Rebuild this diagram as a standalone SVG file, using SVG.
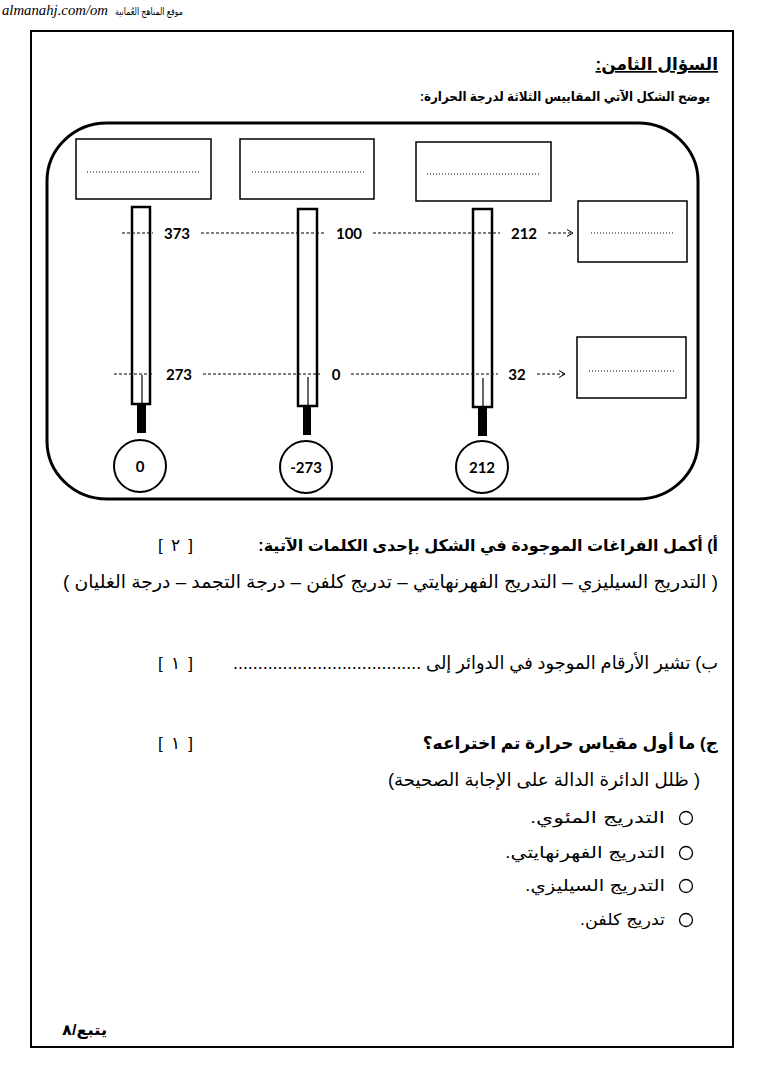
<svg xmlns="http://www.w3.org/2000/svg" width="764" height="1080" viewBox="0 0 764 1080">
<style>
.ar{font-family:"Liberation Sans","DejaVu Sans",sans-serif;fill:#000}
.b{font-weight:bold}
.num{font-family:Lato,"Open Sans","DejaVu Sans",sans-serif;font-weight:bold;font-size:15px;fill:#000}
.box{fill:#fff;stroke:#000;stroke-width:1.5}
.dots{stroke:#000;stroke-width:1;stroke-dasharray:1 2;fill:none}
.dash{stroke:#000;stroke-width:1;stroke-dasharray:3 2;fill:none}
.tube{fill:none;stroke:#000;stroke-width:2.5}
.inner{stroke:#000;stroke-width:1.2}
.stem{fill:#000}
.bulb{fill:#fff;stroke:#000;stroke-width:2}
.opt{fill:#fff;stroke:#000;stroke-width:1.3}
.hdr{font-family:"Liberation Serif",serif;font-style:italic;font-size:15px;fill:#000}
</style>
<defs>
<marker id="arr" markerWidth="8" markerHeight="8" refX="6" refY="4" orient="auto" markerUnits="userSpaceOnUse">
<path d="M0,0.5 L6,4 L0,7.5" fill="none" stroke="#000" stroke-width="1"/>
</marker>
</defs>
<rect width="764" height="1080" fill="#fff"/>
<text x="2" y="15" class="hdr" textLength="106" lengthAdjust="spacingAndGlyphs">almanahj.com/om</text>
<text x="183" y="15" class="ar" font-size="10" direction="rtl" textLength="68" lengthAdjust="spacingAndGlyphs">موقع المناهج العُمانية</text>
<rect x="31" y="31" width="702" height="1016" fill="none" stroke="#000" stroke-width="2"/>

<text x="718" y="70" class="ar b" font-size="17" direction="rtl" text-decoration="underline">السؤال الثامن:</text>
<text x="710" y="101" class="ar b" font-size="13" direction="rtl" textLength="290" lengthAdjust="spacingAndGlyphs">يوضح الشكل الآتي المقاييس الثلاثة لدرجة الحرارة:</text>

<g id="frame"><rect x="47" y="123" width="651" height="376" rx="60" ry="58" fill="none" stroke="#000" stroke-width="3"/></g>

<g id="box1"><rect class="box" x="76" y="139" width="135" height="60"/><line class="dots" x1="87" y1="172" x2="199" y2="172"/></g>
<g id="box2"><rect class="box" x="240" y="139" width="134" height="60"/><line class="dots" x1="252" y1="172" x2="364" y2="172"/></g>
<g id="box3"><rect class="box" x="416" y="142" width="135" height="59"/><line class="dots" x1="427" y1="174" x2="539" y2="174"/></g>
<g id="box4"><rect class="box" x="578" y="201" width="109" height="61"/><line class="dots" x1="591" y1="233" x2="675" y2="233"/></g>
<g id="box5"><rect class="box" x="577" y="337" width="109" height="61"/><line class="dots" x1="589" y1="371" x2="674" y2="371"/></g>

<g id="connectors">
<line class="dash" x1="122" y1="233" x2="153" y2="233"/>
<line class="dash" x1="201" y1="233" x2="324" y2="233"/>
<line class="dash" x1="373" y1="233" x2="500" y2="233"/>
<line class="dash" x1="548" y1="233" x2="573" y2="233" marker-end="url(#arr)"/>
<line class="dash" x1="114" y1="374" x2="153" y2="374"/>
<line class="dash" x1="203" y1="374" x2="320" y2="374"/>
<line class="dash" x1="351" y1="374" x2="498" y2="374"/>
<line class="dash" x1="537" y1="374" x2="565" y2="374" marker-end="url(#arr)"/>
</g>

<g id="thermo1">
<rect class="tube" x="132" y="207" width="18" height="197"/>
<line class="inner" x1="142" y1="375" x2="142" y2="404"/>
<rect class="stem" x="137" y="404" width="9" height="29"/>
<circle class="bulb" cx="140" cy="466" r="26"/>
<text class="num" x="140" y="472" text-anchor="middle">0</text>
</g>
<g id="thermo2">
<rect class="tube" x="298" y="209" width="19" height="197"/>
<line class="inner" x1="308" y1="377" x2="308" y2="406"/>
<rect class="stem" x="303" y="406" width="8" height="29"/>
<circle class="bulb" cx="306" cy="467" r="26"/>
<text class="num" x="306" y="473" text-anchor="middle">-273</text>
</g>
<g id="thermo3">
<rect class="tube" x="473" y="209" width="19" height="198"/>
<line class="inner" x1="483" y1="378" x2="483" y2="407"/>
<rect class="stem" x="478" y="407" width="9" height="29"/>
<circle class="bulb" cx="482" cy="467" r="26"/>
<text class="num" x="482" y="473" text-anchor="middle">212</text>
</g>

<g id="labels">
<text class="num" x="177" y="239" text-anchor="middle">373</text>
<text class="num" x="349" y="239" text-anchor="middle">100</text>
<text class="num" x="524" y="239" text-anchor="middle">212</text>
<text class="num" x="179" y="380" text-anchor="middle">273</text>
<text class="num" x="336" y="380" text-anchor="middle">0</text>
<text class="num" x="517" y="380" text-anchor="middle">32</text>
</g>

<text x="718" y="551" class="ar b" font-size="16" direction="rtl">أ) أكمل الفراغات الموجودة في الشكل بإحدى الكلمات الآتية:</text>
<text x="158" y="551" class="ar" font-size="17" textLength="35" lengthAdjust="spacing">[ ٢ ]</text>
<text x="718" y="588" class="ar" font-size="18" direction="rtl" textLength="655" lengthAdjust="spacingAndGlyphs">( التدريج السيليزي – التدريج الفهرنهايتي – تدريج كلفن – درجة التجمد – درجة الغليان )</text>

<text x="718" y="669" class="ar" font-size="18" direction="rtl" textLength="485" lengthAdjust="spacingAndGlyphs">ب) تشير الأرقام الموجود في الدوائر إلى ......................................</text>
<text x="158" y="669" class="ar" font-size="17" textLength="35" lengthAdjust="spacing">[ ١ ]</text>

<text x="718" y="749" class="ar b" font-size="17" direction="rtl">ج) ما أول مقياس حرارة تم اختراعه؟</text>
<text x="158" y="749" class="ar" font-size="17" textLength="35" lengthAdjust="spacing">[ ١ ]</text>

<text x="700" y="786" class="ar" font-size="18" direction="rtl" textLength="312" lengthAdjust="spacingAndGlyphs">( ظلل الدائرة الدالة على الإجابة الصحيحة)</text>

<g id="options">
<circle class="opt" cx="686" cy="818" r="6.5"/>
<text x="665" y="823" class="ar" font-size="16" direction="rtl" textLength="135" lengthAdjust="spacingAndGlyphs">التدريج المئوي.</text>
<circle class="opt" cx="686" cy="853" r="6.5"/>
<text x="665" y="858" class="ar" font-size="16" direction="rtl" textLength="160" lengthAdjust="spacingAndGlyphs">التدريج الفهرنهايتي.</text>
<circle class="opt" cx="686" cy="886" r="6.5"/>
<text x="665" y="891" class="ar" font-size="16" direction="rtl" textLength="140" lengthAdjust="spacingAndGlyphs">التدريج السيليزي.</text>
<circle class="opt" cx="686" cy="920" r="6.5"/>
<text x="665" y="925" class="ar" font-size="16" direction="rtl" textLength="85" lengthAdjust="spacingAndGlyphs">تدريج كلفن.</text>
</g>

<text x="107" y="1035" class="ar b" font-size="15" direction="rtl" textLength="45" lengthAdjust="spacingAndGlyphs">يتبع/٨</text>
</svg>
